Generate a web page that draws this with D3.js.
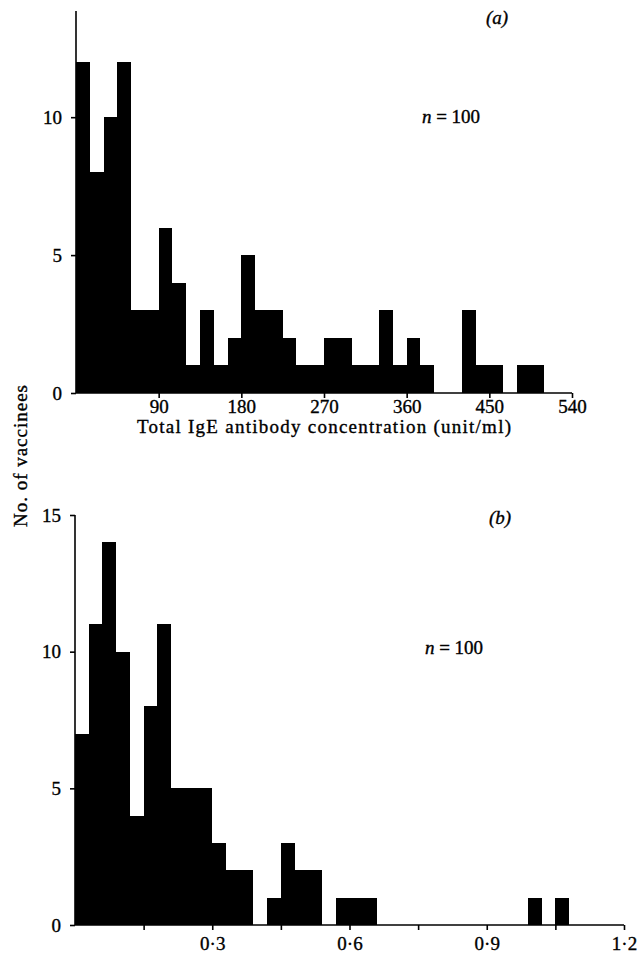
<!DOCTYPE html>
<html><head><meta charset="utf-8">
<script src="https://cdn.jsdelivr.net/npm/d3@7"></script>
<style>
html,body{margin:0;padding:0;background:#fff;}
svg text{font-family:"Liberation Serif","DejaVu Serif",serif;fill:#000;stroke:#000;stroke-width:0.35;}
</style></head>
<body>
<svg id="chart" width="638" height="956"></svg>
<script>
// ---- Data ----
// Panel (a): total IgE, bins of 15 unit/ml starting at 0
const igeBinStart = 0;
const igeBinWidth = 15;
const igeCounts = [12,8,10,12,3,3,6,4,1,3,1,2,5,3,3,2,1,1,2,2,1,1,3,1,2,1,0,0,3,1,1,0,1,1];
const igeTicks = [90,180,270,360,450,540];
const igeYTicks = [0,5,10];

// Panel (b): bins of 0.03 starting at 0
const bBinStart = 0;
const bBinWidth = 0.03;
const bCounts = [7,11,14,10,4,8,11,5,5,5,3,2,2,0,1,3,2,2,0,1,1,1,0,0,0,0,0,0,0,0,0,0,0,1,0,1];
const bTicks = [0.15,0.3,0.45,0.6,0.75,0.9,1.05,1.2];
const bTickLabels = {"0.3":"0·3","0.6":"0·6","0.9":"0·9","1.2":"1·2"};
const bYTicks = [0,5,10,15];

const svg = d3.select("#chart");
const FS = 19;

function drawPanel(cfg){
  const g = svg.append("g");
  const bins = cfg.counts.map((c,i)=>({x0: cfg.start + i*cfg.width, x1: cfg.start+(i+1)*cfg.width, c}));
  g.selectAll("rect").data(bins.filter(d=>d.c>0)).enter().append("rect")
    .attr("x", d=>cfg.x(d.x0))
    .attr("width", d=>cfg.x(d.x1)-cfg.x(d.x0))
    .attr("y", d=>cfg.y(d.c))
    .attr("height", d=>cfg.y(0)-cfg.y(d.c))
    .attr("fill","#000").attr("shape-rendering","crispEdges");

  const xa = g.append("g").attr("transform",`translate(0,${cfg.y(0)})`)
    .call(d3.axisBottom(cfg.x).tickValues(cfg.xTicks).tickSize(5).tickPadding(cfg.xpad).tickFormat(cfg.xfmt));
  const ya = g.append("g").attr("transform",`translate(${cfg.x(0)},0)`)
    .call(d3.axisLeft(cfg.y).tickValues(cfg.yTicks).tickSize(5).tickPadding(9).tickFormat(d3.format("d")));
  [xa,ya].forEach(a=>{
    a.select(".domain").attr("stroke","#000").attr("stroke-width",1.6);
    a.selectAll(".tick line").attr("stroke","#000").attr("stroke-width",1.6);
    a.selectAll(".tick text").attr("font-size",FS).attr("font-family","Liberation Serif");
  });
  xa.select(".domain").attr("d",`M${cfg.x(0)},0H${cfg.x.range()[1]}`);
  ya.select(".domain").attr("d",`M0,${cfg.y.range()[1]}V${cfg.y(0)}`);
  return g;
}

// Panel (a)
const xA = d3.scaleLinear().domain([0,540]).range([76,572]);
const yA = d3.scaleLinear().domain([0,13.85]).range([393,11]);
drawPanel({x:xA,y:yA,counts:igeCounts,start:igeBinStart,width:igeBinWidth,xTicks:igeTicks,yTicks:igeYTicks,xfmt:d3.format("d"),xpad:2});

// Panel (b)
const xB = d3.scaleLinear().domain([0,1.2]).range([75,624]);
const yB = d3.scaleLinear().domain([0,15]).range([925,515]);
drawPanel({x:xB,y:yB,counts:bCounts,start:bBinStart,width:bBinWidth,xTicks:bTicks,yTicks:bYTicks,
  xfmt:d=>bTickLabels[d3.format(".1f")(d)]||"",xpad:7});

// Texts
svg.append("text").attr("x",xA(270)).attr("y",433).attr("text-anchor","middle").attr("font-size",FS)
  .attr("textLength",374).attr("lengthAdjust","spacing")
  .text("Total IgE antibody concentration (unit/ml)");
svg.append("text").attr("transform","translate(27,456) rotate(-90)").attr("text-anchor","middle").attr("font-size",FS)
  .attr("textLength",142).attr("lengthAdjust","spacing")
  .text("No. of vaccinees");
svg.append("text").attr("x",497).attr("y",24).attr("text-anchor","middle").attr("font-size",FS).attr("font-style","italic").text("(a)");
svg.append("text").attr("x",500).attr("y",524).attr("text-anchor","middle").attr("font-size",FS).attr("font-style","italic").text("(b)");
const n1 = svg.append("text").attr("x",451).attr("y",123).attr("text-anchor","middle").attr("font-size",FS);
n1.append("tspan").attr("font-style","italic").text("n");
n1.append("tspan").text(" = 100");
const n2 = svg.append("text").attr("x",454).attr("y",654).attr("text-anchor","middle").attr("font-size",FS);
n2.append("tspan").attr("font-style","italic").text("n");
n2.append("tspan").text(" = 100");
</script>
</body></html>
